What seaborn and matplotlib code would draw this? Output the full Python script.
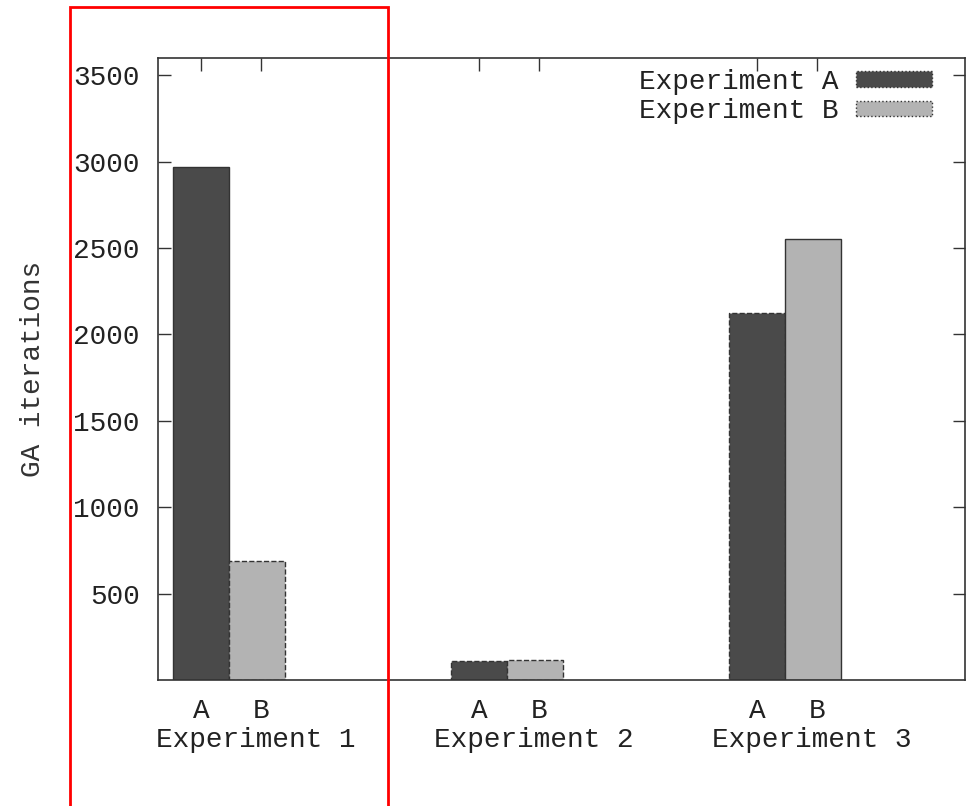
import matplotlib
matplotlib.use("Agg")
import matplotlib.pyplot as plt
import seaborn as sns
import pandas as pd
from matplotlib.patches import Rectangle

experiments = ["Experiment 1", "Experiment 2", "Experiment 3"]
series = ["Experiment A", "Experiment B"]
values_a = [2970, 112, 2125]
values_b = [690, 116, 2550]
sub_labels = ["A", "B"]
y_ticks = [500, 1000, 1500, 2000, 2500, 3000, 3500]

rows = []
for e, a, b in zip(experiments, values_a, values_b):
    rows.append({"exp": e, "series": series[0], "val": a})
    rows.append({"exp": e, "series": series[1], "val": b})
df = pd.DataFrame(rows)

sns.set_theme(style="white")
plt.rcParams["font.family"] = ["Liberation Mono", "DejaVu Sans Mono"]
FS = 20

fig = plt.figure(figsize=(9.69, 8.06), dpi=100)
ax = fig.add_axes([158 / 969, 1 - 680 / 806, (965 - 158) / 969, (680 - 58) / 806])

sns.barplot(data=df, x="exp", y="val", hue="series",
            palette=["#4a4a4a", "#b3b3b3"], width=0.4, ax=ax,
            edgecolor="#333333", linewidth=1.0, saturation=1)

# edge styles as in reference (solid / dashed)
styles = {("Experiment A", 0): "-", ("Experiment A", 1): "--", ("Experiment A", 2): "--",
          ("Experiment B", 0): "--", ("Experiment B", 1): "--", ("Experiment B", 2): "-"}
for cont, s in zip(ax.containers, series):
    for i, p in enumerate(cont.patches):
        p.set_linestyle(styles[(s, i)])

ax.set_xlim(-0.255, 2.647)
ax.set_ylim(0, 3600)
ax.set_yticks(y_ticks)
ax.set_yticklabels([str(t) for t in y_ticks], fontsize=FS, color="#222222")

# sub ticks A / B
pos = []
labs = []
for i in range(len(experiments)):
    pos += [i - 0.1, i + 0.115]
    labs += sub_labels
ax.set_xticks(pos)
ax.set_xticklabels(labs, fontsize=FS, color="#222222")
ax.tick_params(axis="x", bottom=False, top=True, direction="in", length=9,
               width=1, color="#333333", pad=13, labeltop=False)
ax.tick_params(axis="y", left=True, right=True, direction="in", length=9,
               width=1, color="#333333", pad=13)

for i, e in enumerate(experiments):
    ax.text(i + 0.095, -0.097, e, transform=ax.get_xaxis_transform(),
            ha="center", va="center", fontsize=FS, color="#222222")

ax.set_xlabel("")
ax.set_ylabel("GA iterations", fontsize=FS, color="#333333", labelpad=20)

for sp in ax.spines.values():
    sp.set_color("#333333")
    sp.set_linewidth(1.2)
    sp.set_visible(True)

leg = ax.legend(loc="upper right", frameon=False, markerfirst=False,
                fontsize=FS, handlelength=2.75, handleheight=0.5,
                labelspacing=0.12, borderaxespad=0.0, borderpad=0.0,
                handletextpad=0.6,
                bbox_to_anchor=((932 - 158) / 807, (680 - 69) / 622))
for t in leg.get_texts():
    t.set_color("#222222")
for h in leg.legend_handles:
    h.set_linestyle(":")

rect = Rectangle((70 / 969, -0.02), (388 - 70) / 969, (1 - 7 / 806) + 0.02,
                 transform=fig.transFigure, fill=False, edgecolor="red",
                 linewidth=2.0, clip_on=False)
fig.patches.append(rect)

fig.savefig("out.png", dpi=100)
